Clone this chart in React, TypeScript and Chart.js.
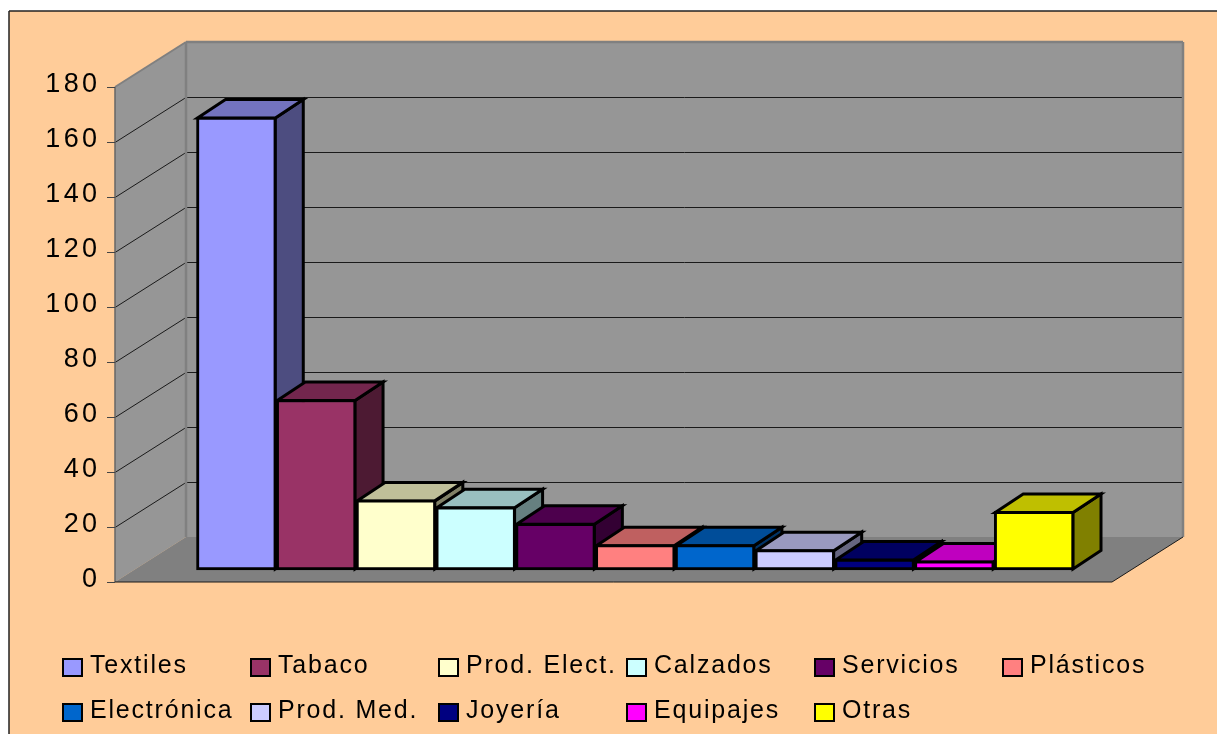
import React, { useEffect, useRef } from "react";
import { Chart, registerables } from "chart.js";

Chart.register(...registerables);

const categories = ["Textiles", "Tabaco", "Prod. Elect.", "Calzados", "Servicios", "Plásticos", "Electrónica", "Prod. Med.", "Joyería", "Equipajes", "Otras"];
const values = [164.7, 62, 25.5, 23, 17, 9.2, 9.2, 7.4, 4, 3.3, 21.3];
const frontColors = ["#9999FF", "#993366", "#FFFFCC", "#CCFFFF", "#660066", "#FF8080", "#0066CC", "#CCCCFF", "#000080", "#FF00FF", "#FFFF00"];
const topColors = ["#7373BF", "#73264D", "#BFBF99", "#99BFBF", "#4D004D", "#BF6060", "#004D99", "#9999BF", "#000060", "#BF00BF", "#BFBF00"];
const sideColors = ["#4D4D80", "#4D1A33", "#808066", "#668080", "#330033", "#804040", "#003366", "#666680", "#000040", "#800080", "#808000"];
const yMax = 180;
const yStep = 20;

const FONT = '"Liberation Sans", Arial, sans-serif';
const BAR_DX = 28;
const BAR_DY = 18.5;
const FRONT_LEFT = 115;
const FRONT_RIGHT = 1112;
const WALL_DX = 71;
const WALL_DY = 45;
const AXIS_DROP = 12;
const EDGE = 3;

function poly(ctx: CanvasRenderingContext2D, pts: number[][], fill?: string, stroke?: string, lw = 1) {
  ctx.beginPath();
  pts.forEach((p, i) => (i ? ctx.lineTo(p[0], p[1]) : ctx.moveTo(p[0], p[1])));
  ctx.closePath();
  if (fill) {
    ctx.fillStyle = fill;
    ctx.fill();
  }
  if (stroke) {
    ctx.strokeStyle = stroke;
    ctx.lineWidth = lw;
    ctx.stroke();
  }
}

function line(ctx: CanvasRenderingContext2D, x0: number, y0: number, x1: number, y1: number, color: string, lw = 1) {
  ctx.beginPath();
  ctx.moveTo(x0, y0);
  ctx.lineTo(x1, y1);
  ctx.strokeStyle = color;
  ctx.lineWidth = lw;
  ctx.stroke();
}

const scenePlugin = {
  id: "scene",
  beforeDraw(chart: any) {
    const ctx = chart.ctx as CanvasRenderingContext2D;
    const y = chart.scales.y;
    ctx.save();
    ctx.fillStyle = "#FFCC99";
    ctx.fillRect(9, 11, chart.width - 9, chart.height - 11);
    line(ctx, 9, 11, chart.width, 11, "#222222", 1.5);
    line(ctx, 9, 11, 9, chart.height, "#222222", 1.5);

    const fy = (v: number) => y.getPixelForValue(v) + AXIS_DROP;
    const bot = fy(0);
    const top = fy(yMax);
    const bl = FRONT_LEFT + WALL_DX;
    const br = FRONT_RIGHT + WALL_DX;
    poly(ctx, [[FRONT_LEFT, top], [bl, top - WALL_DY], [bl, bot - WALL_DY], [FRONT_LEFT, bot]], "#969696");
    poly(ctx, [[bl, top - WALL_DY], [br, top - WALL_DY], [br, bot - WALL_DY], [bl, bot - WALL_DY]], "#969696");
    poly(ctx, [[FRONT_LEFT, bot], [bl, bot - WALL_DY], [br, bot - WALL_DY], [FRONT_RIGHT, bot]], "#808080");

    for (let v = yStep; v < yMax; v += yStep) {
      const py = Math.round(fy(v)) + 0.5;
      line(ctx, FRONT_LEFT, py, bl, py - WALL_DY, "#1A1A1A", 1);
      line(ctx, bl, py - WALL_DY, br, py - WALL_DY, "#1A1A1A", 1);
    }
    // wall edges
    line(ctx, FRONT_LEFT, top, bl, top - WALL_DY, "#808080", 2);
    line(ctx, bl, top - WALL_DY, br, top - WALL_DY, "#808080", 2.5);
    line(ctx, bl, top - WALL_DY, bl, bot - WALL_DY, "#808080", 2.5);
    line(ctx, br, top - WALL_DY, br, bot - WALL_DY, "#808080", 2.5);
    line(ctx, FRONT_LEFT, top, FRONT_LEFT, bot, "#666666", 1.5);
    line(ctx, FRONT_LEFT, bot, FRONT_RIGHT, bot, "#1A1A1A", 1);
    line(ctx, FRONT_RIGHT, bot, br, bot - WALL_DY, "#1A1A1A", 1);
    for (let v = 0; v <= yMax; v += yStep) {
      const py = Math.round(fy(v)) + 0.5;
      line(ctx, FRONT_LEFT - 8, py, FRONT_LEFT, py, "#444444", 1);
    }
    ctx.restore();
    (ctx as any).letterSpacing = "3.4px";
  },
  beforeDatasetsDraw(chart: any) {
    const ctx = chart.ctx as CanvasRenderingContext2D;
    (ctx as any).letterSpacing = "0px";
    const meta = chart.getDatasetMeta(0);
    ctx.save();
    ctx.lineJoin = "miter";
    meta.data.forEach((bar: any, i: number) => {
      const l = bar.x - bar.width / 2 + 1;
      const r = bar.x + bar.width / 2 - 1;
      const t = bar.y + 1;
      const b = bar.base - 1;
      poly(ctx, [[r, t], [r + BAR_DX, t - BAR_DY], [r + BAR_DX, b - BAR_DY], [r, b]], sideColors[i], "#000000", EDGE);
      poly(ctx, [[l, t], [r, t], [r + BAR_DX, t - BAR_DY], [l + BAR_DX, t - BAR_DY]], topColors[i], "#000000", EDGE);
    });
    ctx.restore();
  },
  afterDraw(chart: any) {
    const ctx = chart.ctx as CanvasRenderingContext2D;
    ctx.save();
    (ctx as any).letterSpacing = "1.8px";
    ctx.font = `25px ${FONT}`;
    ctx.textBaseline = "alphabetic";
    ctx.textAlign = "left";
    categories.forEach((name, i) => {
      const col = i % 6;
      const row = Math.floor(i / 6);
      const bx = 63 + col * 188;
      const by = 659 + row * 45;
      ctx.fillStyle = frontColors[i];
      ctx.fillRect(bx, by, 19, 17);
      ctx.strokeStyle = "#000000";
      ctx.lineWidth = 2;
      ctx.strokeRect(bx, by, 19, 17);
      ctx.fillStyle = "#000000";
      ctx.fillText(name, bx + 27, 673 + row * 45);
    });
    ctx.restore();
  },
  afterLayout(chart: any) {
    const s = chart.scales.y;
    if (s.__wrapped) return;
    s.__wrapped = true;
    const orig = s.drawLabels;
    s.drawLabels = function (area: any) {
      const ctx = chart.ctx;
      ctx.save();
      ctx.translate(0, AXIS_DROP - 2.5);
      orig.call(s, area);
      ctx.restore();
    };
  },
};

export default function App() {
  const ref = useRef<HTMLCanvasElement | null>(null);
  useEffect(() => {
    document.body.style.margin = "0";
    const chart = new Chart(ref.current as HTMLCanvasElement, {
      type: "bar",
      data: {
        labels: categories,
        datasets: [
          {
            data: values,
            backgroundColor: frontColors,
            borderColor: "#000000",
            borderWidth: EDGE,
            borderSkipped: false,
            barPercentage: 1,
            categoryPercentage: 1,
            clip: false,
          } as any,
        ],
      },
      options: {
        animation: false,
        responsive: false,
        layout: { padding: { left: 6.5, right: 143, top: 75, bottom: 164 } },
        plugins: { legend: { display: false }, tooltip: { enabled: false }, title: { display: false } },
        scales: {
          x: { display: false, grid: { display: false } },
          y: {
            min: 0,
            max: yMax,
            afterFit: (s: any) => {
              s.width = 190;
              s.paddingTop = 0;
              s.paddingBottom = 0;
            },
            border: { display: false },
            grid: { display: false, drawTicks: false },
            ticks: {
              stepSize: yStep,
              padding: 96,
              color: "#000000",
              font: { family: FONT, size: 27 },
            },
          },
        },
      },
      plugins: [scenePlugin as any],
    });
    return () => chart.destroy();
  }, []);
  return (
    <canvas
      ref={ref}
      width={1217}
      height={734}
      style={{ position: "fixed", left: 0, top: 0, width: 1217, height: 734, display: "block" }}
    />
  );
}
